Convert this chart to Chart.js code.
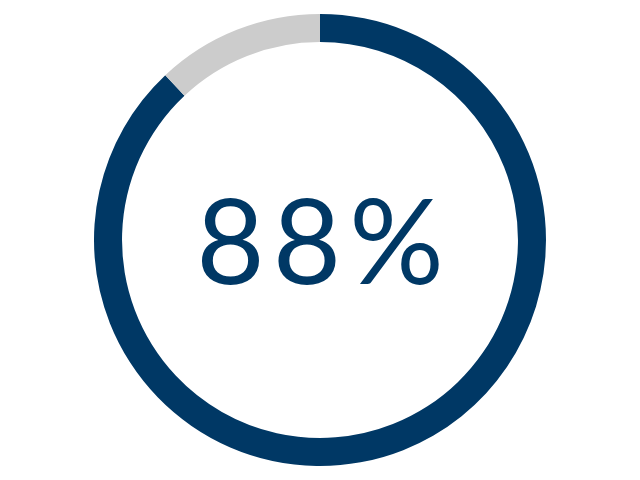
<!DOCTYPE html>
<html lang="en">
<head>
    <meta charset="UTF-8">
    <title>88%</title>
    <script src="https://cdn.jsdelivr.net/npm/chart.js"></script>
    <style>
        html, body { margin: 0; padding: 0; background: #fff; }
        #wrap { position: relative; width: 640px; height: 480px; }
        #label {
            position: absolute; left: 0; top: -2px; width: 640px; height: 480px;
            display: flex; align-items: center; justify-content: center;
            font-family: Lato, sans-serif; font-weight: 400; font-size: 118px;
            letter-spacing: 8px; text-indent: 8px;
            color: #003865; pointer-events: none;
        }
    </style>
</head>
<body>
<div id="wrap">
    <canvas id="ring" width="640" height="480"></canvas>
    <div id="label">88%</div>
</div>
<script>
    // доля и остаток
    const labels = ['Done', 'Rest'];
    const values = [88, 12];
    const colors = ['#003865', '#cccccc'];

    new Chart(document.getElementById('ring').getContext('2d'), {
        type: 'doughnut',
        data: {
            labels: labels,
            datasets: [{
                data: values,
                backgroundColor: colors,
                borderWidth: 0
            }]
        },
        options: {
            responsive: false,
            animation: false,
            cutout: '87.6%',
            layout: { padding: 14 },
            plugins: {
                legend: { display: false },
                tooltip: { enabled: false }
            }
        }
    });
</script>
</body>
</html>
